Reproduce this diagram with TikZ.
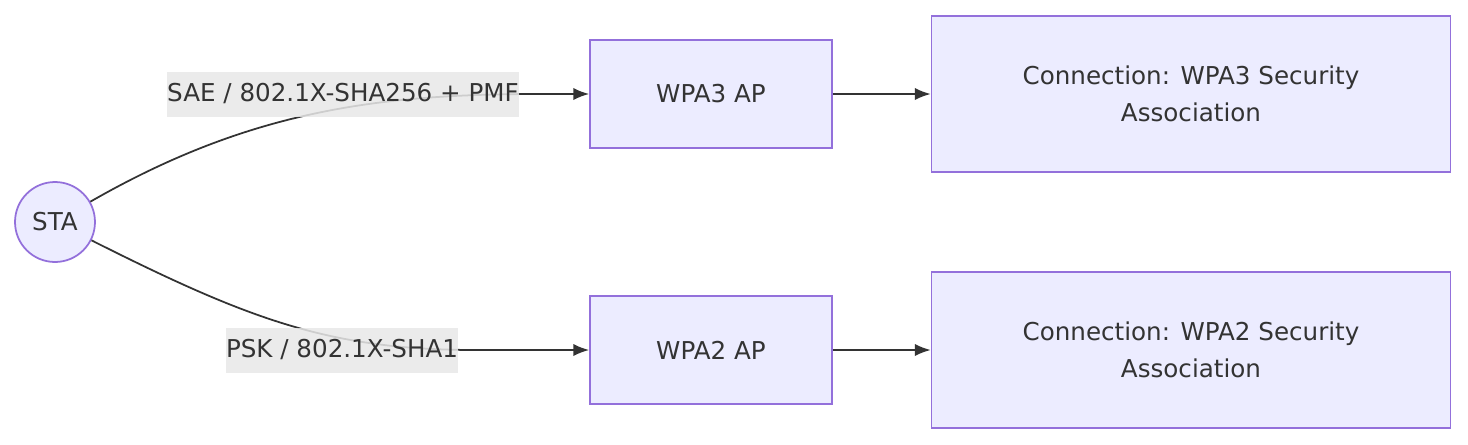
\documentclass[tikz,border=0pt]{standalone}
\usepackage{fontspec}
\setmainfont{DejaVu Sans}
\usetikzlibrary{arrows.meta}
\definecolor{nodeFill}{HTML}{ECECFF}
\definecolor{nodeLine}{HTML}{9370DB}
\definecolor{textColor}{HTML}{333333}
\definecolor{labelFill}{HTML}{E8E8E8}
\begin{document}
\begin{tikzpicture}[
    x=0.02cm, y=-0.02cm,
    font=\fontsize{14}{21}\selectfont,
    text=textColor,
    >={Latex[length=9pt,width=7pt]},
    box/.style={draw=nodeLine, fill=nodeFill, line width=1pt, inner sep=0pt, align=center},
    edgelabel/.style={fill=labelFill, fill opacity=0.85, text opacity=1, inner sep=0pt, minimum height=0.9cm},
    link/.style={->, draw=textColor, line width=1pt}
]
    \useasboundingbox (0,0) rectangle (1468,444);

    % Nodes
    \node[box, circle, minimum size=1.6cm] (sta) at (55,222) {STA};
    \node[box, minimum width=4.84cm, minimum height=2.16cm] (wpa3) at (711,94) {WPA3 AP};
    \node[box, minimum width=10.38cm, minimum height=3.12cm] (conn3) at (1191,94) {Connection: WPA3 Security\\Association};
    \node[box, minimum width=4.84cm, minimum height=2.16cm] (wpa2) at (711,350) {WPA2 AP};
    \node[box, minimum width=10.38cm, minimum height=3.12cm] (conn2) at (1191,350) {Connection: WPA2 Security\\Association};

    % Edges
    \draw[link] (sta) .. controls (250,110) and (380,94) .. (540,94) -- (wpa3.west);
    \draw[link] (sta) .. controls (250,320) and (330,350) .. (476,350) -- (wpa2.west);
    \draw[link] (wpa3) -- (conn3);
    \draw[link] (wpa2) -- (conn2);

    % Edge labels
    \node[edgelabel] (lab3) at (343,94) {SAE / 802.1X-SHA256 + PMF};
    \node[edgelabel] (lab2) at (342,350) {PSK / 802.1X-SHA1};
\end{tikzpicture}
\end{document}
